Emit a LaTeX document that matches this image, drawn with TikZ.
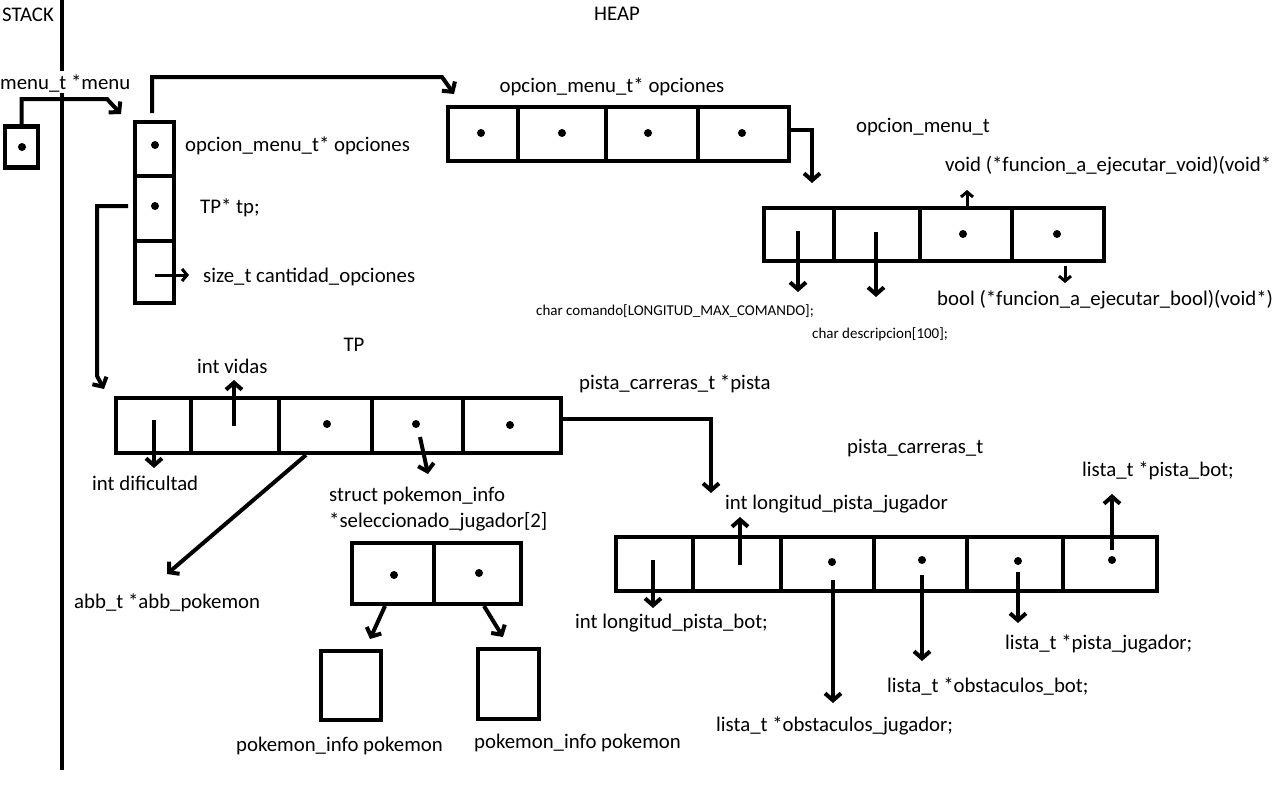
\documentclass[tikz,border=0pt]{standalone}
\usepackage{fontspec}
\setmainfont{Carlito}
\usetikzlibrary{arrows.meta}
\begin{document}
\begin{tikzpicture}[x=1pt,y=-1pt,
  cell/.style={draw,line width=4.5pt,inner sep=0pt,outer sep=0pt},
  dot/.style={ellipse,fill,inner sep=0pt,minimum width=6pt,minimum height=8pt},
  lbl/.style={anchor=west,inner sep=0pt,yshift=-4pt,text height=0.75em,text depth=0.25em,font=\fontsize{20.8}{24}\selectfont},
  clbl/.style={inner sep=0pt,yshift=-4pt,text height=0.75em,text depth=0.25em,font=\fontsize{20.8}{24}\selectfont},
  slbl/.style={anchor=west,inner sep=0pt,yshift=-3pt,text height=0.75em,text depth=0.25em,font=\fontsize{15}{17}\selectfont},
  arr/.style={line width=4pt,-{Straight Barb[length=7pt,width=16pt]}},
  sarr/.style={line width=3pt,-{Straight Barb[length=5pt,width=12pt]}}
]
\tikzset{ellipse/.style={shape=circle}}
\useasboundingbox (0,0) rectangle (1274,790);
% stack divider
\coordinate (s1) at (62,0);
\coordinate (s2) at (62,71);
\coordinate (s3) at (62,93);
\coordinate (s4) at (62,770);
\draw[line width=4.5pt] (s1) -- (s2) (s3) -- (s4);
\node[clbl] (stack) at (28,15) {STACK};
\node[clbl] (heap) at (617,14) {HEAP};
\node[lbl] (menulbl) at (0,83) {menu\_t *menu};
% stack box
\node[cell,minimum width=33pt,minimum height=41pt] (sb) at (21.5,147) {};
\node[dot] (sbd) at (22,147) {};
% menu struct
\node[cell,minimum width=39pt,minimum height=54pt] (m1) at (154.5,149) {};
\node[cell,minimum width=39pt,minimum height=65pt] (m2) at (154.5,208.5) {};
\node[cell,minimum width=39pt,minimum height=62pt] (m3) at (154.5,272) {};
\node[dot] (m1d) at (155,145) {};
\node[dot] (m2d) at (155,206) {};
\node[lbl] (m1l) at (185,145) {opcion\_menu\_t* opciones};
\node[lbl] (m2l) at (200,207) {TP* tp;};
\node[lbl] (m3l) at (203,276) {size\_t cantidad\_opciones};
\coordinate (m3s) at (155,275);
\coordinate (m3e) at (189,275);
\draw[sarr] (m3s) -- (m3e);
\coordinate (sbk) at (107,99);
\coordinate (m1in) at (121,114);
\draw[arr] (sb.north) |- (sbk) -- (m1in);
% opciones array
\node[cell,minimum width=70pt,minimum height=54pt] (o1) at (483,134) {};
\node[cell,minimum width=88pt,minimum height=54pt] (o2) at (562,134) {};
\node[cell,minimum width=92pt,minimum height=54pt] (o3) at (652,134) {};
\node[cell,minimum width=91pt,minimum height=54pt] (o4) at (743.5,134) {};
\node[dot] (o1d) at (481,133) {};
\node[dot] (o2d) at (562,133) {};
\node[dot] (o3d) at (648,133) {};
\node[dot] (o4d) at (742,133) {};
\node[clbl] (ol) at (612,86) {opcion\_menu\_t* opciones};
\coordinate (mup) at (152,113);
\coordinate (mtop) at (152,77);
\coordinate (otop) at (442,77);
\coordinate (oin) at (454,94);
\draw[arr] (mup) -- (mtop) -- (otop) -- (oin);
\coordinate (ob) at (812,130);
\coordinate (oe) at (812,183);
\draw[arr] (o4.east |- ob) -- (ob) -- (oe);
% opcion_menu_t struct
\node[cell,minimum width=70pt,minimum height=53pt] (p1) at (799,234.5) {};
\node[cell,minimum width=86pt,minimum height=53pt] (p2) at (877,234.5) {};
\node[cell,minimum width=92pt,minimum height=53pt] (p3) at (966,234.5) {};
\node[cell,minimum width=92pt,minimum height=53pt] (p4) at (1058,234.5) {};
\node[dot] (p3d) at (963,234) {};
\node[dot] (p4d) at (1057,234) {};
\node[clbl] (pl) at (923,126) {opcion\_menu\_t};
\node[lbl] (pvoid) at (945,165) {void (*funcion\_a\_ejecutar\_void)(void*};
\node[lbl] (pbool) at (937,299) {bool (*funcion\_a\_ejecutar\_bool)(void*)};
\node[slbl] (pcom) at (536,310) {char comando[LONGITUD\_MAX\_COMANDO];};
\node[slbl] (pdesc) at (812,333) {char descripcion[100];};
\coordinate (p1s) at (798,231); \coordinate (p1e) at (798,292);
\coordinate (p2s) at (876,232); \coordinate (p2e) at (876,297);
\coordinate (p3s) at (967,207); \coordinate (p3e) at (967,190);
\coordinate (p4s) at (1065,266); \coordinate (p4e) at (1065,283);
\draw[arr] (p1s) -- (p1e);
\draw[arr] (p2s) -- (p2e);
\draw[sarr] (p3s) -- (p3e);
\draw[sarr] (p4s) -- (p4e);
% TP struct
\node[clbl] (tpl) at (354,345) {TP};
\node[cell,minimum width=75pt,minimum height=55pt] (t1) at (153.5,425.5) {};
\node[cell,minimum width=88pt,minimum height=55pt] (t2) at (235,425.5) {};
\node[cell,minimum width=93pt,minimum height=55pt] (t3) at (325.5,425.5) {};
\node[cell,minimum width=91pt,minimum height=55pt] (t4) at (417.5,425.5) {};
\node[cell,minimum width=98pt,minimum height=55pt] (t5) at (512,425.5) {};
\node[dot] (t3d) at (327,424) {};
\node[dot] (t4d) at (416,424) {};
\node[dot] (t5d) at (510,425) {};
\coordinate (tps) at (128,206);
\coordinate (tpk) at (97,206);
\coordinate (tpk2) at (97,376);
\coordinate (tpe) at (104,389);
\draw[arr] (tps) -- (tpk) -- (tpk2) -- (tpe);
\node[lbl] (t1l) at (92,484) {int dificultad};
\node[lbl] (t2l) at (197,367) {int vidas};
\node[lbl] (t3l) at (74,602) {abb\_t *abb\_pokemon};
\node[lbl] (t4l) at (329,495) {struct pokemon\_info};
\node[lbl] (t4l2) at (329,521) {*seleccionado\_jugador[2]};
\node[lbl] (t5l) at (579,383) {pista\_carreras\_t *pista};
\coordinate (t1s) at (154,420); \coordinate (t1e) at (154,468);
\coordinate (t2s) at (234,426); \coordinate (t2e) at (234,380);
\coordinate (t3s) at (306,455); \coordinate (t3e) at (167,574);
\coordinate (t4s) at (420,437); \coordinate (t4e) at (428,474);
\draw[arr] (t1s) -- (t1e);
\draw[arr] (t2s) -- (t2e);
\draw[arr] (t3s) -- (t3e);
\draw[arr] (t4s) -- (t4e);
% selec array
\node[cell,minimum width=82pt,minimum height=61pt] (e1) at (393,573.5) {};
\node[cell,minimum width=87pt,minimum height=61pt] (e2) at (477.5,573.5) {};
\node[dot] (e1d) at (394,575) {};
\node[dot] (e2d) at (479,573) {};
\node[cell,minimum width=60pt,minimum height=69pt] (k1) at (351,685.5) {};
\node[cell,minimum width=61pt,minimum height=70pt] (k2) at (508.5,684) {};
\node[lbl] (k1l) at (236,745) {pokemon\_info pokemon};
\node[lbl] (k2l) at (474,742) {pokemon\_info pokemon};
\coordinate (e1s) at (385,606); \coordinate (e1e) at (370,639);
\coordinate (e2s) at (484,606); \coordinate (e2e) at (503,637);
\draw[arr] (e1s) -- (e1e);
\draw[arr] (e2s) -- (e2e);
% pista struct
\node[cell,minimum width=77pt,minimum height=54pt] (q1) at (654.5,564) {};
\node[cell,minimum width=88pt,minimum height=54pt] (q2) at (737,564) {};
\node[cell,minimum width=93pt,minimum height=54pt] (q3) at (827.5,564) {};
\node[cell,minimum width=93pt,minimum height=54pt] (q4) at (920.5,564) {};
\node[cell,minimum width=96pt,minimum height=54pt] (q5) at (1015,564) {};
\node[cell,minimum width=94pt,minimum height=54pt] (q6) at (1110,564) {};
\node[dot] (q3d) at (832,562) {};
\node[dot] (q4d) at (922,560) {};
\node[dot] (q5d) at (1018,561) {};
\node[dot] (q6d) at (1112,560) {};
\coordinate (tk1) at (711,419);
\coordinate (tk2) at (711,493);
\draw[arr] (t5.east |- tk1) -- (tk1) -- (tk2);
\node[lbl] (ql) at (847,447) {pista\_carreras\_t};
\node[lbl] (q2l) at (725,503) {int longitud\_pista\_jugador};
\node[lbl] (q6l) at (1082,470) {lista\_t *pista\_bot;};
\node[lbl] (q1l) at (575,622) {int longitud\_pista\_bot;};
\node[lbl] (q5l) at (1005,643) {lista\_t *pista\_jugador;};
\node[lbl] (q4l) at (887,686) {lista\_t *obstaculos\_bot;};
\node[lbl] (q3l) at (716,725) {lista\_t *obstaculos\_jugador;};
\coordinate (q1s) at (653,560); \coordinate (q1e) at (653,608);
\coordinate (q2s) at (740,565); \coordinate (q2e) at (740,517);
\coordinate (q3s) at (833,580); \coordinate (q3e) at (833,703);
\coordinate (q4s) at (922,575); \coordinate (q4e) at (922,661);
\coordinate (q5s) at (1018,572); \coordinate (q5e) at (1018,623);
\coordinate (q6s) at (1112,550); \coordinate (q6e) at (1112,494);
\draw[arr] (q1s) -- (q1e);
\draw[arr] (q2s) -- (q2e);
\draw[arr] (q3s) -- (q3e);
\draw[arr] (q4s) -- (q4e);
\draw[arr] (q5s) -- (q5e);
\draw[arr] (q6s) -- (q6e);
\end{tikzpicture}
\end{document}
